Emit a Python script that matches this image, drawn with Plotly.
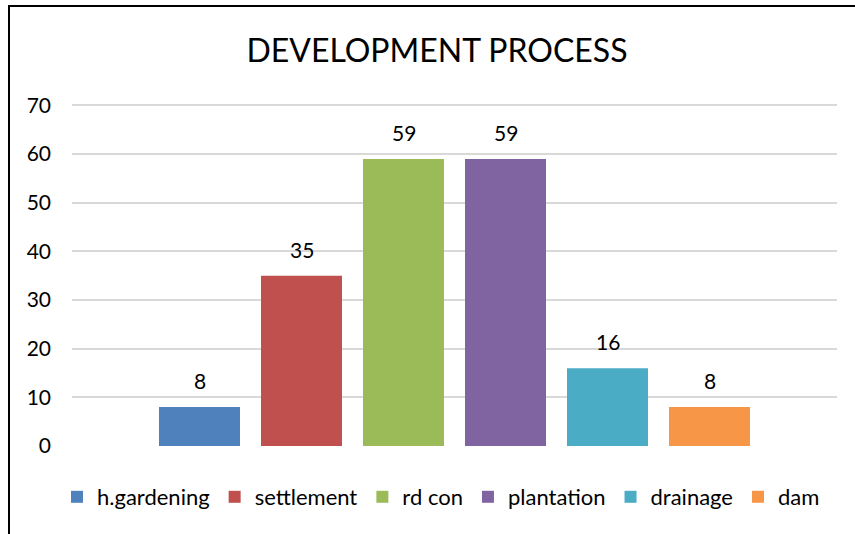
import plotly.graph_objects as go

categories = ["h.gardening", "settlement", "rd con", "plantation", "drainage", "dam"]
values = [8, 35, 59, 59, 16, 8]
colors = ["#4F81BD", "#C0504D", "#9BBB59", "#8064A2", "#4BACC6", "#F79646"]
y_ticks = [0, 10, 20, 30, 40, 50, 60, 70]

FONT = "Lato, Calibri, sans-serif"

fig = go.Figure()
for name, val, col in zip(categories, values, colors):
    fig.add_trace(go.Bar(
        x=[name], y=[val], name=name, marker=dict(color=col, line=dict(width=0)),
        width=0.794, hoverinfo="x+y",
    ))
    fig.add_annotation(x=name, y=val, text=str(val), showarrow=False,
                       yanchor="bottom", yshift=12,
                       font=dict(family=FONT, size=21, color="#000000"))

W, H = 855, 534
L, R, T, B = 72, 18, 104, 88
pw, ph = W - L - R, H - T - B

def px_x(x):
    return (x - L) / pw

def px_y(y):
    return 1 - (y - T) / ph

fig.add_shape(type="rect", xref="paper", yref="paper",
              x0=px_x(9), x1=px_x(900), y0=px_y(600), y1=px_y(6),
              line=dict(color="#000000", width=2), fillcolor="rgba(0,0,0,0)", layer="above")

fig.update_layout(
    width=W, height=H,
    margin=dict(l=L, r=R, t=T, b=B, autoexpand=False),
    paper_bgcolor="white", plot_bgcolor="white",
    barmode="overlay",
    font=dict(family=FONT, size=22, color="#000000"),
    title=dict(text="DEVELOPMENT PROCESS", x=437 / W, xref="container", xanchor="center",
               y=1 - 51 / H, yref="container", yanchor="middle",
               font=dict(family=FONT, size=32, color="#000000")),
    xaxis=dict(type="category", range=[-1.25, 6.25], showticklabels=False, automargin=False,
               showgrid=False, zeroline=False, showline=False, fixedrange=True),
    yaxis=dict(range=[0, 70.3], tickvals=y_ticks, showgrid=True, gridcolor="#D9D9D9", gridwidth=1.5,
               zeroline=False, showline=False, ticks="", ticklabelstandoff=20, automargin=False,
               tickfont=dict(family=FONT, size=21, color="#000000")),
    legend=dict(orientation="h", x=px_x(441), xref="paper", xanchor="center",
                y=px_y(497), yanchor="middle",
                font=dict(family=FONT, size=22, color="#000000"),
                itemwidth=30, tracegroupgap=0),
    showlegend=True,
)

fig.write_html("out.html", config={"displayModeBar": False},
               post_script="document.body.style.margin='0';")
